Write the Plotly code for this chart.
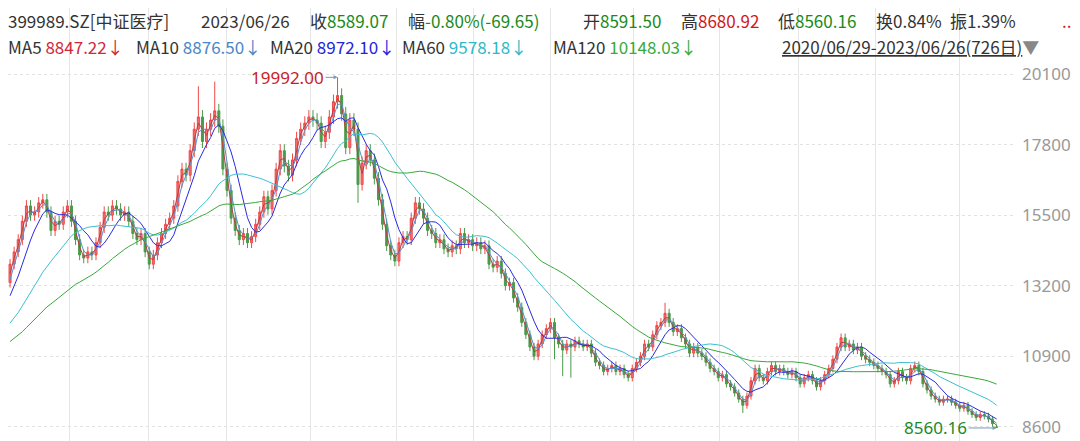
import plotly.graph_objects as go

# ~3-trading-day bars, 2020/06/29 - 2023/06/26
warmup = [10200,10300,10500,10700,10400,10100,9900,10300,10600,10800,
          11000,10900,11200,11100,10800,11000,11300,11400,11200,11100,
          10900,11000,11100,11000,11200,11100,11400,11600,11500,11700,
          11800,12000,11900,12200,12100,12400,12600,12800,13000,13300]
closes = [13900,14300,14700,15300,15800,15500,15600,15900,16000,15600,
          15000,15300,15200,15600,15800,15300,14700,14200,14100,14300,
          14200,14600,15100,15600,15500,15800,15700,15500,15600,15300,
          14900,14700,14900,14300,13900,14200,14600,14900,15200,15400,
          15800,16600,17000,16800,17600,18300,18700,17900,18300,18600,
          18900,18400,17000,16300,15400,15000,14700,14900,14600,14800,
          15200,15600,16100,15700,16300,17000,17600,17100,16800,17300,
          18000,18300,18500,18700,18600,18500,17900,18200,18700,19200,
          19400,18800,17700,18600,18300,16500,17200,17600,17300,16700,
          16000,15200,14500,14200,14000,14600,14800,14700,15400,15900,
          15700,15400,15000,14900,14600,14700,14400,14300,14500,14400,
          14900,14600,14700,14500,14600,14400,14500,13900,13800,14000,
          13600,13200,13300,12800,12500,12000,11600,11200,10900,11300,
          11600,11800,12000,11500,11300,11100,11300,11200,11400,11300,
          11200,11300,11000,10700,10600,10400,10500,10600,10400,10500,
          10300,10200,10500,10700,10900,11300,11200,11600,11900,12000,
          12300,12000,11700,11800,11500,11300,11000,11200,11000,10900,
          10700,10500,10400,10200,10300,10000,9900,9700,9500,9300,
          9600,10100,10500,10200,10100,10400,10600,10400,10500,10400,
          10300,10400,10200,10000,10200,10300,10100,9900,10100,10300,
          10500,10800,11200,11500,11200,11300,11100,11200,10900,10800,
          10700,10600,10500,10400,10300,10000,10100,10400,10200,10100,
          10500,10600,10400,10000,9800,9600,9500,9400,9500,9500,
          9400,9300,9200,9300,9100,9000,8900,9000,8950,8850,8700,8589.07]
# notable wick extremes: bar index -> (high, low)
extremes = {46: (19700, None), 50: (19850, None), 80: (19992.00, None),
            85: (None, 15900), 133: (None, 10800), 135: (None, 10250),
            137: (None, 10200), 160: (12640, None), 179: (None, 9050),
            241: (8680.92, 8560.16)}
last_open = 8591.50
ma_windows = {"MA5": 2, "MA10": 3, "MA20": 7, "MA60": 20, "MA120": 40}
ma_colors = {"MA5": "#b84040", "MA10": "#5a8fd0", "MA20": "#2a2ae0",
             "MA60": "#3cc0d0", "MA120": "#3aa83a"}
grid_bars = [14.6, 33.9, 52.8, 73.5, 94.4, 113.3, 132.0, 152.2, 173.4, 192.6, 211.5, 231.9]
y_ticks = [8600, 10900, 13200, 15500, 17800, 20100]

n = len(closes)
xs = list(range(n))
opens = [warmup[-1]] + closes[:-1]
opens[-1] = last_open
highs, lows = [], []
for i in range(n):
    o, c = opens[i], closes[i]
    h = max(o, c) * 1.012
    l = min(o, c) * 0.988
    if i in extremes:
        eh, el = extremes[i]
        if eh: h = eh
        if el: l = el
    highs.append(h); lows.append(l)

allc = warmup + closes
fig = go.Figure()
fig.add_trace(go.Candlestick(x=xs, open=opens, high=highs, low=lows, close=closes,
    increasing=dict(line=dict(color="#f04848", width=1), fillcolor="#f47070"),
    decreasing=dict(line=dict(color="#4a9a4a", width=1), fillcolor="#4a9a4a"),
    whiskerwidth=0, showlegend=False, hoverinfo="skip"))
for name, w in ma_windows.items():
    vals = []
    for i in range(n):
        j = i + len(warmup)
        seg = allc[j - w + 1:j + 1]
        vals.append(sum(seg) / len(seg))
    fig.add_trace(go.Scatter(x=xs, y=vals, mode="lines",
        line=dict(color=ma_colors[name], width=1), showlegend=False, hoverinfo="skip"))

hi_i = max(range(n), key=lambda i: highs[i])
lo_i = min(range(n), key=lambda i: lows[i])
fig.add_annotation(x=hi_i, y=highs[hi_i], text=f"{highs[hi_i]:.2f}", showarrow=True,
    ax=-12, ay=0, xanchor="right", arrowhead=2, arrowsize=0.8, arrowwidth=1, arrowcolor="#7a9ab0",
    font=dict(family="Noto Sans, sans-serif", color="#c81e1e", size=17), standoff=0)
fig.add_annotation(x=lo_i, y=lows[lo_i], text=f"{lows[lo_i]:.2f}", showarrow=True,
    ax=-28, ay=0, xanchor="right", arrowhead=2, arrowsize=0.8, arrowwidth=1, arrowcolor="#7a9ab0",
    font=dict(family="Noto Sans, sans-serif", color="#1a8a2a", size=17), standoff=0)

F = "Noto Sans CJK SC, Noto Sans, sans-serif"
R, G, K = "#d01818", "#1a8a1a", "#333333"
def hdr(xpx, ypx, html):
    fig.add_annotation(x=xpx / 1080, y=1 - ypx / 441, xref="paper", yref="paper",
        text=html, showarrow=False, xanchor="left", yanchor="middle",
        font=dict(family=F, size=17, color=K))
hdr(-2, 13, "399989.SZ[中证医疗]")
hdr(191, 13, "2023/06/26")
hdr(300, 13, f"收<span style='color:{G}'>8589.07</span>")
hdr(398, 13, f"幅<span style='color:{G}'>-0.80%(-69.65)</span>")
hdr(573, 13, f"开<span style='color:{G}'>8591.50</span>")
hdr(671, 13, f"高<span style='color:{R}'>8680.92</span>")
hdr(768, 13, f"低<span style='color:{G}'>8560.16</span>")
hdr(866, 13, "换0.84%")
hdr(940, 13, "振1.39%")
hdr(1052, 13, f"<span style='color:{R}'>..</span>")
ma_last = {"MA5": "8847.22", "MA10": "8876.50", "MA20": "8972.10", "MA60": "9578.18", "MA120": "10148.03"}
ma_x = {"MA5": -2, "MA10": 126, "MA20": 260, "MA60": 392, "MA120": 543}
txtcol = {"MA5": "#d0283c", "MA10": "#4a86c8", "MA20": "#2424e0", "MA60": "#30b8c8", "MA120": "#3aaa3a"}
for name in ma_windows:
    hdr(ma_x[name], 39, f"{name} <span style='color:{txtcol[name]}'>{ma_last[name]}↓</span>")
hdr(772, 39, "<u>2020/06/29-2023/06/26(726日)</u><span style='color:#888'>▼</span>")

fig.update_layout(width=1080, height=441, margin=dict(l=0, r=0, t=0, b=0, autoexpand=False),
    paper_bgcolor="white", plot_bgcolor="white", hovermode=False,
    xaxis=dict(domain=[0, 1005 / 1080], range=[-0.5, n + 3], rangeslider=dict(visible=False),
               tickvals=grid_bars, showticklabels=False, showgrid=True,
               gridcolor="#e6e6e6", gridwidth=1, zeroline=False, showline=False),
    yaxis=dict(side="right", range=[7875, 22252], tickvals=y_ticks,
               ticktext=[str(v) for v in y_ticks], showgrid=True, gridcolor="#e2e2e2",
               griddash="dot", zeroline=False, ticks="", ticklabelstandoff=8,
               tickfont=dict(family="Noto Sans, sans-serif", size=17, color="#999999")))
fig.write_html("out.html")
